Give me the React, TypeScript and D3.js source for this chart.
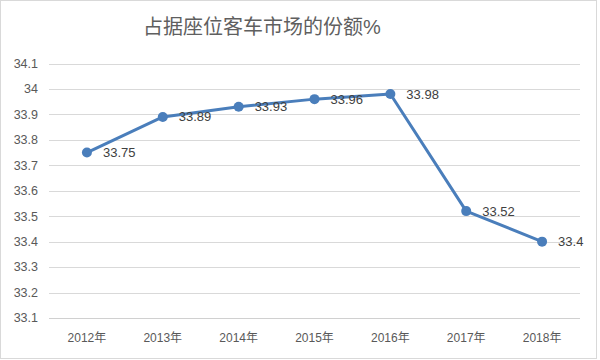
import React from "react";
import * as d3 from "d3";

const years = ["2012年", "2013年", "2014年", "2015年", "2016年", "2017年", "2018年"];
const shares = [33.75, 33.89, 33.93, 33.96, 33.98, 33.52, 33.4];
const yTicks = [33.1, 33.2, 33.3, 33.4, 33.5, 33.6, 33.7, 33.8, 33.9, 34, 34.1];
const title = "占据座位客车市场的份额%";

const W = 600;
const H = 360;
const FONT = "'Liberation Sans', 'Noto Sans CJK SC', sans-serif";

export default function App() {
  const x = d3.scaleBand<string>().domain(years).range([49, 580]);
  const y = d3.scaleLinear().domain([33.1, 34.1]).range([318, 63.5]);
  const cx = (i: number) => (x(years[i]) as number) + x.bandwidth() / 2;
  const line = d3
    .line<number>()
    .x((_, i) => cx(i))
    .y((d) => y(d));

  return (
    <svg
      width={W}
      height={H}
      style={{ position: "absolute", left: 0, top: 0, background: "#fff" }}
      fontFamily={FONT}
    >
      <rect x={0.5} y={0.5} width={W - 4} height={H - 2} fill="#fff" stroke="#d9d9d9" />
      <text x={262} y={34} textAnchor="middle" fontSize={20} fill="#5f5f5f">
        {title}
      </text>
      {yTicks.map((t) => (
        <g key={t}>
          <line
            x1={49}
            x2={580}
            y1={Math.round(y(t)) + 0.5}
            y2={Math.round(y(t)) + 0.5}
            stroke={t === 33.1 ? "#d0d0d0" : "#d9d9d9"}
            strokeWidth={1}
          />
          <text x={38} y={y(t)} dy="0.35em" textAnchor="end" fontSize={12.5} fill="#595959">
            {d3.format("")(t)}
          </text>
        </g>
      ))}
      {years.map((yr, i) => (
        <text key={yr} x={cx(i)} y={338} dy="0.35em" textAnchor="middle" fontSize={12} fill="#595959">
          {yr}
        </text>
      ))}
      <path d={line(shares) || ""} fill="none" stroke="#4a7ebb" strokeWidth={3} strokeLinejoin="round" />
      {shares.map((v, i) => (
        <g key={i}>
          <circle cx={cx(i)} cy={y(v)} r={5} fill="#4a7ebb" />
          <text x={cx(i) + 16} y={y(v)} dy="0.35em" fontSize={13} fill="#404040">
            {String(v)}
          </text>
        </g>
      ))}
    </svg>
  );
}
